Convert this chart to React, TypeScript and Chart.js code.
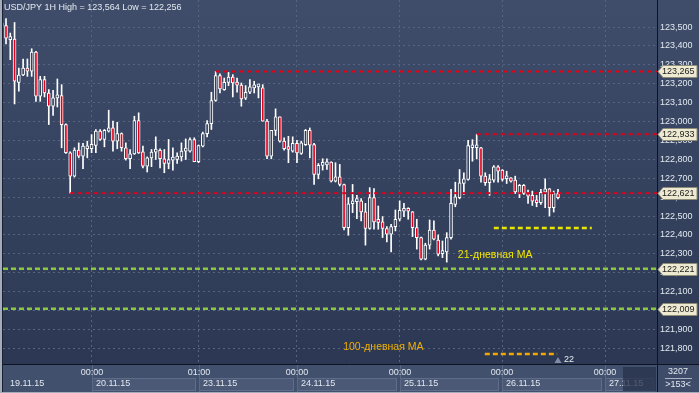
import React, { useEffect, useRef } from "react";
import { Chart, registerables } from "chart.js";

Chart.register(...registerables);

// ---- Data (USD/JPY 1H, 19.11.15 04:00 .. 26.11.15 13:00) ----
const openPrices = [
  123.520, 123.507, 123.433, 123.436, 123.207, 123.246, 123.283, 123.266, 123.368, 123.134,
  123.222, 123.151, 123.081, 123.125, 123.137, 122.984, 122.835, 122.711, 122.849, 122.817,
  122.856, 122.856, 122.873, 122.949, 122.905, 122.949, 122.966, 122.896, 122.936, 122.861,
  122.803, 122.829, 123.005, 122.840, 122.764, 122.808, 122.838, 122.848, 122.803, 122.778,
  122.796, 122.799, 122.813, 122.843, 122.843, 122.905, 122.787, 122.870, 122.936, 122.989,
  123.111, 123.243, 123.169, 123.207, 123.235, 123.204, 123.193, 123.123, 123.155, 123.178,
  123.183, 123.178, 123.002, 122.817, 122.953, 123.025, 122.896, 122.856, 122.843, 122.884,
  122.831, 122.878, 122.953, 122.878, 122.720, 122.768, 122.771, 122.785, 122.685, 122.708,
  122.667, 122.439, 122.565, 122.576, 122.580, 122.522, 122.434, 122.597, 122.472, 122.469,
  122.434, 122.404, 122.444, 122.483, 122.525, 122.530, 122.522, 122.439, 122.386, 122.272,
  122.346, 122.426, 122.373, 122.301, 122.310, 122.386, 122.561, 122.597, 122.672, 122.693,
  122.861, 122.861, 122.861, 122.711, 122.676, 122.690, 122.760, 122.743, 122.697, 122.702,
  122.690, 122.619, 122.662, 122.619, 122.609, 122.584, 122.570, 122.626, 122.644, 122.544,
  122.619,
];
const highPrices = [
  123.564, 123.545, 123.468, 123.524, 123.283, 123.331, 123.331, 123.385, 123.372, 123.239,
  123.239, 123.169, 123.165, 123.225, 123.195, 122.988, 122.840, 122.861, 122.887, 122.884,
  122.896, 122.931, 122.958, 122.958, 122.958, 123.060, 123.002, 122.996, 122.940, 122.887,
  122.852, 123.028, 123.046, 122.870, 122.813, 122.852, 122.919, 122.855, 122.852, 122.905,
  122.861, 122.834, 122.887, 122.908, 122.914, 122.914, 122.876, 122.944, 123.005, 123.155,
  123.265, 123.253, 123.230, 123.260, 123.248, 123.230, 123.204, 123.190, 123.222, 123.213,
  123.195, 123.195, 123.011, 122.953, 123.067, 123.025, 122.914, 122.922, 122.919, 122.901,
  122.896, 122.958, 122.966, 122.884, 122.778, 122.803, 122.803, 122.787, 122.782, 122.773,
  122.669, 122.597, 122.667, 122.609, 122.592, 122.567, 122.650, 122.645, 122.553, 122.497,
  122.444, 122.456, 122.532, 122.580, 122.567, 122.544, 122.524, 122.483, 122.388, 122.356,
  122.479, 122.474, 122.400, 122.368, 122.412, 122.641, 122.679, 122.746, 122.729, 122.901,
  122.904, 122.933, 122.863, 122.729, 122.720, 122.767, 122.767, 122.746, 122.737, 122.704,
  122.711, 122.667, 122.667, 122.637, 122.632, 122.609, 122.641, 122.697, 122.646, 122.632,
  122.641,
];
const lowPrices = [
  123.490, 123.410, 123.327, 123.093, 123.160, 123.242, 123.239, 123.239, 123.107, 123.107,
  123.130, 122.984, 123.032, 123.077, 122.861, 122.831, 122.621, 122.706, 122.808, 122.750,
  122.808, 122.835, 122.835, 122.900, 122.866, 122.944, 122.843, 122.856, 122.843, 122.796,
  122.750, 122.826, 122.831, 122.755, 122.733, 122.761, 122.799, 122.755, 122.729, 122.750,
  122.743, 122.778, 122.791, 122.799, 122.838, 122.787, 122.782, 122.866, 122.919, 122.958,
  123.107, 123.151, 123.165, 123.190, 123.130, 123.155, 123.081, 123.116, 123.148, 123.151,
  123.125, 123.002, 122.803, 122.803, 122.926, 122.891, 122.849, 122.782, 122.838, 122.782,
  122.826, 122.873, 122.808, 122.667, 122.697, 122.743, 122.746, 122.680, 122.680, 122.659,
  122.427, 122.398, 122.518, 122.486, 122.474, 122.346, 122.430, 122.430, 122.430, 122.386,
  122.363, 122.310, 122.421, 122.474, 122.497, 122.483, 122.391, 122.325, 122.268, 122.268,
  122.325, 122.373, 122.289, 122.280, 122.256, 122.377, 122.549, 122.591, 122.614, 122.690,
  122.790, 122.802, 122.679, 122.662, 122.609, 122.679, 122.679, 122.685, 122.672, 122.679,
  122.619, 122.597, 122.614, 122.567, 122.556, 122.549, 122.561, 122.544, 122.500, 122.521,
  122.591,
];
const closePrices = [
  123.505, 123.441, 123.441, 123.213, 123.246, 123.283, 123.266, 123.368, 123.134, 123.222,
  123.151, 123.081, 123.125, 123.137, 122.984, 122.835, 122.711, 122.849, 122.817, 122.870,
  122.870, 122.879, 122.949, 122.905, 122.954, 122.967, 122.896, 122.936, 122.861, 122.803,
  122.829, 123.005, 122.834, 122.764, 122.808, 122.838, 122.848, 122.803, 122.778, 122.799,
  122.803, 122.817, 122.843, 122.856, 122.905, 122.787, 122.873, 122.936, 122.989, 123.111,
  123.243, 123.172, 123.207, 123.235, 123.204, 123.193, 123.119, 123.155, 123.183, 123.190,
  123.190, 123.002, 122.817, 122.953, 123.025, 122.896, 122.856, 122.852, 122.884, 122.834,
  122.887, 122.953, 122.875, 122.720, 122.768, 122.778, 122.785, 122.685, 122.708, 122.667,
  122.439, 122.565, 122.580, 122.583, 122.522, 122.434, 122.597, 122.469, 122.466, 122.434,
  122.404, 122.444, 122.483, 122.530, 122.530, 122.525, 122.439, 122.386, 122.272, 122.346,
  122.426, 122.377, 122.298, 122.315, 122.386, 122.567, 122.602, 122.676, 122.697, 122.873,
  122.869, 122.866, 122.711, 122.676, 122.697, 122.760, 122.737, 122.693, 122.706, 122.685,
  122.627, 122.662, 122.619, 122.605, 122.579, 122.570, 122.626, 122.644, 122.544, 122.619,
  122.597,
];

const priceTicks = [
  121.8, 121.9, 122.0, 122.1, 122.2, 122.3, 122.4, 122.5, 122.6,
  122.7, 122.8, 122.9, 123.0, 123.1, 123.2, 123.3, 123.4, 123.5,
];
const dayStartIndex = [21, 46, 69, 93, 117, 141];
const dayTimeLabels = ["00:00", "01:00", "00:00", "00:00", "00:00", "00:00"];
const dayDateLabels = ["19.11.15", "20.11.15", "23.11.15", "24.11.15", "25.11.15", "26.11.15", "27.11.15"];
const redLevels = [123.265, 122.933, 122.621];
const redLevelStart = [50, 111, 16];
const greenLevels = [122.221, 122.009];
const ma21Level = 122.437;
const ma21Span = [115, 137.9];
const ma100Level = 121.77;
const ma100Span = [112.9, 129.8];
const maLabels = ["21-дневная МА", "100-дневная МА"];
const maLabelIndex = [106.6, 79.8];
const maLabelPrice = [122.294, 121.807];
const barsInfo = ["3207", ">153<"];
const lastBarMark = "22";
const scrollMarkIndex = 145.2;

const X_MIN = 0.299;
const X_MAX = 153.135;
const Y_MIN = 121.717;
const Y_MAX = 123.643;

const W = 699;
const H = 393;
const FONT = '"Liberation Sans", Arial, sans-serif';
const RED = "#e2001a";
const BULL_FILL = "#36435f";
const GRID = "#56647f";

const fmt = (v: number) => v.toFixed(3).replace(".", ",");

export default function App() {
  const ref = useRef<HTMLCanvasElement | null>(null);

  useEffect(() => {
    const canvas = ref.current;
    if (!canvas) return;
    const idx = openPrices.map((_, i) => i);
    const bodyColors = idx.map((i) => (closePrices[i] < openPrices[i] ? RED : BULL_FILL));
    const maxHigh = Math.max(...highPrices);
    const minLow = Math.min(...lowPrices);

    const lineDs = (pts: { x: number; y: number }[], color: string, width: number, dash: number[]) => ({
      type: "line" as const,
      data: pts,
      borderColor: color,
      backgroundColor: color,
      borderWidth: width,
      borderDash: dash,
      pointRadius: 0,
      fill: false,
      tension: 0,
      order: 0,
    });

    const datasets: any[] = [
      {
        type: "bar",
        label: "body",
        data: idx.map((i) => ({ x: i, y: [openPrices[i], closePrices[i]] })),
        backgroundColor: bodyColors,
        borderColor: "#ffffff",
        borderWidth: 1,
        borderSkipped: false,
        barThickness: 3,
        minBarLength: 3,
        grouped: false,
        order: 1,
      },
      {
        type: "bar",
        label: "wick",
        data: idx.map((i) => ({ x: i, y: [lowPrices[i], highPrices[i]] })),
        backgroundColor: "#ffffff",
        borderWidth: 0,
        barThickness: 1,
        grouped: false,
        order: 2,
      },
    ];
    redLevels.forEach((v, k) => {
      datasets.push(lineDs([{ x: redLevelStart[k], y: v }, { x: X_MAX, y: v }], RED, 2, [4, 4]));
    });
    greenLevels.forEach((v) => {
      datasets.push(lineDs([{ x: X_MIN, y: v }, { x: X_MAX, y: v }], "#8dc63f", 2.5, [5, 3]));
    });
    datasets.push(lineDs([{ x: ma21Span[0], y: ma21Level }, { x: ma21Span[1], y: ma21Level }], "#e6e600", 2.5, [5, 3]));
    datasets.push(lineDs([{ x: ma100Span[0], y: ma100Level }, { x: ma100Span[1], y: ma100Level }], "#f0a800", 2.5, [5, 3]));

    const decor = {
      id: "decor",
      beforeDraw(chart: any) {
        const { ctx, chartArea } = chart;
        const g = ctx.createLinearGradient(0, 0, 0, chartArea.bottom);
        g.addColorStop(0, "#3f4d6b");
        g.addColorStop(1, "#2c3853");
        ctx.save();
        ctx.fillStyle = g;
        ctx.fillRect(0, 0, W, chartArea.bottom);
        ctx.restore();
      },
      afterDraw(chart: any) {
        const { ctx, chartArea } = chart;
        const xs = chart.scales.x;
        const ys = chart.scales.y;
        const { left, right, bottom } = chartArea;
        ctx.save();
        ctx.textBaseline = "middle";

        // title
        ctx.font = `9px ${FONT}`;
        ctx.fillStyle = "#e4e8ee";
        ctx.textAlign = "left";
        ctx.fillText(`USD/JPY 1H High = ${fmt(maxHigh)} Low = ${fmt(minLow)}`, 4, 8);

        // MA labels
        ctx.font = `10.5px ${FONT}`;
        ctx.fillStyle = "#f2e600";
        ctx.fillText(maLabels[0], xs.getPixelForValue(maLabelIndex[0]), ys.getPixelForValue(maLabelPrice[0]));
        ctx.fillStyle = "#f0b000";
        ctx.fillText(maLabels[1], xs.getPixelForValue(maLabelIndex[1]), ys.getPixelForValue(maLabelPrice[1]));

        // last bar marker
        const lx = xs.getPixelForValue(idx.length - 1);
        ctx.fillStyle = "#7f8ca5";
        ctx.beginPath();
        ctx.moveTo(lx - 3.5, bottom - 1);
        ctx.lineTo(lx + 3.5, bottom - 1);
        ctx.lineTo(lx, bottom - 7);
        ctx.closePath();
        ctx.fill();
        ctx.font = `9px ${FONT}`;
        ctx.fillStyle = "#e8ecf2";
        ctx.fillText(lastBarMark, lx + 6, bottom - 4);

        // bottom strip
        ctx.fillStyle = "#41506d";
        ctx.fillRect(0, bottom, W, H - bottom);
        const gx = dayStartIndex.map((v) => Math.round(xs.getPixelForValue(v)));
        const starts = [left, ...gx];
        const ends = [...gx, right];
        for (let d = 0; d < starts.length; d++) {
          const x0 = starts[d];
          const x1 = ends[d];
          if (d > 0) {
            ctx.fillStyle = "#4b5977";
            ctx.fillRect(x0 + 0.5, bottom + 14, Math.max(0, x1 - x0 - 4), H - bottom - 16);
            ctx.strokeStyle = "#5f6d8b";
            ctx.lineWidth = 1;
            ctx.strokeRect(x0 + 0.5, bottom + 14.5, Math.max(0, x1 - x0 - 4), H - bottom - 17);
          }
          ctx.fillStyle = "#e3e8ef";
          ctx.font = `9px ${FONT}`;
          ctx.textAlign = "left";
          ctx.fillText(dayDateLabels[d], d === 0 ? left + 7 : x0 + 4, bottom + 20);
        }
        gx.forEach((x, k) => {
          ctx.strokeStyle = "#5a6884";
          ctx.beginPath();
          ctx.moveTo(x + 0.5, bottom);
          ctx.lineTo(x + 0.5, H);
          ctx.stroke();
          ctx.fillStyle = "#e3e8ef";
          ctx.textAlign = "center";
          ctx.fillText(dayTimeLabels[k], x, bottom + 9);
        });
        // scroll shade
        const sx = xs.getPixelForValue(scrollMarkIndex);
        ctx.fillStyle = "rgba(40,50,74,0.78)";
        ctx.fillRect(sx, bottom + 3, right - sx - 1, H - bottom - 5);

        // separators
        ctx.strokeStyle = "#0d1320";
        ctx.lineWidth = 1;
        ctx.beginPath();
        ctx.moveTo(0, bottom + 0.5);
        ctx.lineTo(W, bottom + 0.5);
        ctx.moveTo(right + 0.5, 0);
        ctx.lineTo(right + 0.5, H);
        ctx.stroke();

        // bars info box
        ctx.fillStyle = "#3e4c69";
        ctx.fillRect(right + 1, bottom + 1, W - right - 1, H - bottom - 1);
        ctx.fillStyle = "#e3e8ef";
        ctx.textAlign = "center";
        const cx = (right + W) / 2;
        ctx.fillText(barsInfo[0], cx, bottom + 8);
        ctx.strokeStyle = "#aab4c4";
        ctx.beginPath();
        ctx.moveTo(right + 8, bottom + 14.5);
        ctx.lineTo(W - 7, bottom + 14.5);
        ctx.stroke();
        ctx.fillText(barsInfo[1], cx, bottom + 21);

        // level price boxes
        const boxLevels = [...redLevels, ...greenLevels];
        ctx.textAlign = "left";
        boxLevels.forEach((v) => {
          const y = Math.round(ys.getPixelForValue(v)) + 0.5;
          ctx.beginPath();
          ctx.moveTo(right + 1, y);
          ctx.lineTo(right + 6, y - 6);
          ctx.lineTo(W - 2, y - 6);
          ctx.lineTo(W - 2, y + 6);
          ctx.lineTo(right + 6, y + 6);
          ctx.closePath();
          ctx.fillStyle = "#eeead2";
          ctx.fill();
          ctx.strokeStyle = "#8d8c78";
          ctx.stroke();
          ctx.fillStyle = "#1b1b1b";
          ctx.font = `9px ${FONT}`;
          ctx.fillText(fmt(v), right + 5, y);
        });

        // frame
        ctx.fillStyle = "#a2acba";
        ctx.fillRect(0, 0, 2, H);
        ctx.fillRect(0, H - 1, W, 1);
        ctx.fillStyle = "#1a2132";
        ctx.fillRect(2, 0, 1, H - 1);
        ctx.restore();
      },
    };

    const chart = new Chart(canvas, {
      type: "bar",
      data: { datasets },
      options: {
        responsive: false,
        animation: false,
        devicePixelRatio: 1,
        events: [],
        layout: { padding: { left: 3, top: 0, right: 0, bottom: 29 } },
        plugins: { legend: { display: false }, tooltip: { enabled: false }, title: { display: false } },
        scales: {
          x: {
            type: "linear",
            min: X_MIN,
            max: X_MAX,
            offset: false,
            afterBuildTicks: (s: any) => {
              s.ticks = dayStartIndex.map((v) => ({ value: v }));
            },
            afterFit: (s: any) => {
              s.height = 0;
              s.paddingLeft = 0;
              s.paddingRight = 0;
            },
            ticks: { display: false },
            grid: { color: GRID, lineWidth: 1, drawTicks: false, offset: false },
            border: { display: false, dash: [2, 3] },
          },
          y: {
            type: "linear",
            position: "right",
            min: Y_MIN,
            max: Y_MAX,
            afterBuildTicks: (s: any) => {
              s.ticks = priceTicks.map((v) => ({ value: v }));
            },
            afterFit: (s: any) => {
              s.width = 42;
              s.paddingTop = 0;
              s.paddingBottom = 0;
            },
            ticks: {
              color: "#e3e9f0",
              font: { family: FONT, size: 9 },
              padding: 3,
              callback: (v: any) => fmt(Number(v)),
            },
            grid: { color: GRID, lineWidth: 1, drawTicks: false },
            border: { display: true, color: "#0d1320", width: 1, dash: [2, 3] },
          },
        },
      } as any,
      plugins: [decor],
    });
    return () => chart.destroy();
  }, []);

  return (
    <div style={{ position: "absolute", left: 0, top: 0, width: W, height: H }}>
      <canvas ref={ref} width={W} height={H} style={{ display: "block", width: W, height: H }} />
    </div>
  );
}
